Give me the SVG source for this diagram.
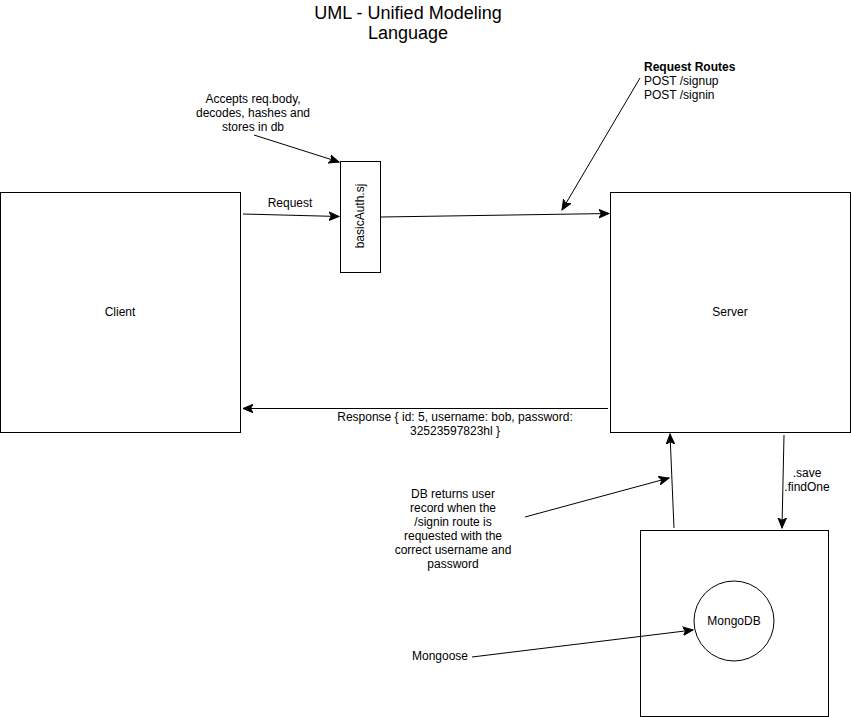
<svg xmlns="http://www.w3.org/2000/svg" width="851" height="717" viewBox="0 0 851 717">
<style>
.box{fill:#fff;stroke:#000;stroke-width:1}
.ln{fill:none;stroke:#000;stroke-width:1;marker-end:url(#arr)}
text{font-family:"Liberation Sans",Arial,sans-serif;font-size:12px;fill:#000}
.c{text-anchor:middle;dominant-baseline:central}
</style>
<defs>
<marker id="arr" markerUnits="userSpaceOnUse" markerWidth="12" markerHeight="10" viewBox="0 0 12 10" refX="10" refY="5" orient="auto">
<path d="M0,0.8 L10,5 L0,9.2 L2.5,5 Z" fill="#000" stroke="#000" stroke-width="1"/>
</marker>
</defs>
<rect width="851" height="717" fill="#fff"/>
<g id="title">
<text x="408" y="13" class="c" style="font-size:18px">UML - Unified Modeling</text>
<text x="408" y="33" class="c" style="font-size:18px">Language</text>
</g>
<g id="client"><rect class="box" x="0.5" y="192.5" width="240" height="240"/><text x="120" y="312" class="c">Client</text></g>
<g id="server"><rect class="box" x="610.5" y="192.5" width="240" height="240"/><text x="730" y="312" class="c">Server</text></g>
<g id="basicAuth"><rect class="box" x="340.5" y="161.5" width="40" height="111"/><text transform="translate(360,216) rotate(-90)" class="c">basicAuth.sj</text></g>
<g id="db"><rect class="box" x="640.5" y="530.5" width="188" height="186"/></g>
<g id="mongodb"><circle class="box" cx="734" cy="621" r="40"/><text x="734" y="621" class="c">MongoDB</text></g>
<g id="labels">
<text x="253" y="99" class="c">Accepts req.body,</text>
<text x="253" y="113" class="c">decodes, hashes and</text>
<text x="253" y="127" class="c">stores in db</text>
<text x="290" y="203" class="c">Request</text>
<text x="644" y="67" style="font-weight:bold;dominant-baseline:central">Request Routes</text>
<text x="644" y="81" style="dominant-baseline:central">POST /signup</text>
<text x="644" y="95" style="dominant-baseline:central">POST /signin</text>
<text x="455" y="417" class="c">Response { id: 5, username: bob, password:</text>
<text x="455" y="431" class="c">32523597823hl }</text>
<text x="807" y="473" class="c">.save</text>
<text x="807" y="487" class="c">.findOne</text>
<text x="453" y="494" class="c">DB returns user</text>
<text x="453" y="508" class="c">record when the</text>
<text x="453" y="522" class="c">/signin route is</text>
<text x="453" y="536" class="c">requested with the</text>
<text x="453" y="550" class="c">correct username and</text>
<text x="453" y="564" class="c">password</text>
<text x="440" y="656" class="c">Mongoose</text>
</g>
<g id="connectors">
<path class="ln" d="M243,214 L339,216.5"/>
<path class="ln" d="M254,135 L339,162"/>
<path class="ln" d="M381,217 L609,213.5"/>
<path class="ln" d="M640,78 L562,210"/>
<path class="ln" d="M608,408.5 L243,408.5"/>
<path class="ln" d="M674,528 L670,434"/>
<path class="ln" d="M784,435 L782,528"/>
<path class="ln" d="M525,517 L669,478"/>
<path class="ln" d="M472,657 L693,630"/>
</g>
</svg>
